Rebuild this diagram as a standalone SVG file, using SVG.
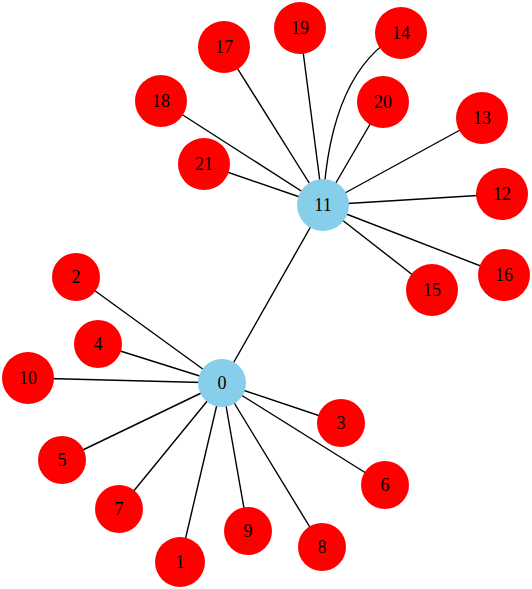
<svg xmlns="http://www.w3.org/2000/svg" width="532" height="589" viewBox="0 0 532 589">
<style>
.e{stroke:#000;stroke-width:1.4;fill:none}
.r{fill:#ff0000}
.b{fill:#87ceeb}
text{font-family:"Liberation Serif","Times New Roman",serif;font-size:18px;fill:#000;text-anchor:middle;dominant-baseline:central}
</style>
<rect width="532" height="589" fill="#fff"/>
<g id="edges">
<line class="e" x1="222" y1="383" x2="323" y2="205"/>
<line class="e" x1="222" y1="383" x2="76" y2="277"/>
<line class="e" x1="222" y1="383" x2="98" y2="344"/>
<line class="e" x1="222" y1="383" x2="28" y2="378"/>
<line class="e" x1="222" y1="383" x2="62" y2="460"/>
<line class="e" x1="222" y1="383" x2="119" y2="509"/>
<line class="e" x1="222" y1="383" x2="180" y2="562"/>
<line class="e" x1="222" y1="383" x2="248" y2="531"/>
<line class="e" x1="222" y1="383" x2="322" y2="547"/>
<line class="e" x1="222" y1="383" x2="385" y2="485"/>
<line class="e" x1="222" y1="383" x2="341" y2="423"/>
<line class="e" x1="323" y1="205" x2="161" y2="101"/>
<line class="e" x1="323" y1="205" x2="204" y2="164"/>
<line class="e" x1="323" y1="205" x2="224" y2="47"/>
<line class="e" x1="323" y1="205" x2="300" y2="28"/>
<path class="e" d="M323,205 Q330,70 401,33"/>
<line class="e" x1="323" y1="205" x2="383" y2="102"/>
<line class="e" x1="323" y1="205" x2="482" y2="118"/>
<line class="e" x1="323" y1="205" x2="502" y2="194"/>
<line class="e" x1="323" y1="205" x2="504" y2="275"/>
<line class="e" x1="323" y1="205" x2="432" y2="290"/>
</g>
<g id="n0"><circle class="b" cx="222" cy="383" r="24"/><text x="222" y="383">0</text></g>
<g id="n11"><circle class="b" cx="323" cy="205" r="26"/><text x="323" y="205">11</text></g>
<g id="n1"><circle class="r" cx="180" cy="562" r="25"/><text x="180" y="562">1</text></g>
<g id="n2"><circle class="r" cx="76" cy="277" r="24"/><text x="76" y="277">2</text></g>
<g id="n3"><circle class="r" cx="341" cy="423" r="24"/><text x="341" y="423">3</text></g>
<g id="n4"><circle class="r" cx="98" cy="344" r="24"/><text x="98" y="344">4</text></g>
<g id="n5"><circle class="r" cx="62" cy="460" r="24"/><text x="62" y="460">5</text></g>
<g id="n6"><circle class="r" cx="385" cy="485" r="24"/><text x="385" y="485">6</text></g>
<g id="n7"><circle class="r" cx="119" cy="509" r="24"/><text x="119" y="509">7</text></g>
<g id="n8"><circle class="r" cx="322" cy="547" r="24"/><text x="322" y="547">8</text></g>
<g id="n9"><circle class="r" cx="248" cy="531" r="24"/><text x="248" y="531">9</text></g>
<g id="n10"><circle class="r" cx="28" cy="378" r="26"/><text x="28" y="378">10</text></g>
<g id="n12"><circle class="r" cx="502" cy="194" r="26"/><text x="502" y="194">12</text></g>
<g id="n13"><circle class="r" cx="482" cy="118" r="26"/><text x="482" y="118">13</text></g>
<g id="n14"><circle class="r" cx="401" cy="33" r="26"/><text x="401" y="33">14</text></g>
<g id="n15"><circle class="r" cx="432" cy="290" r="26"/><text x="432" y="290">15</text></g>
<g id="n16"><circle class="r" cx="504" cy="275" r="26"/><text x="504" y="275">16</text></g>
<g id="n17"><circle class="r" cx="224" cy="47" r="26"/><text x="224" y="47">17</text></g>
<g id="n18"><circle class="r" cx="161" cy="101" r="26"/><text x="161" y="101">18</text></g>
<g id="n19"><circle class="r" cx="300" cy="28" r="26"/><text x="300" y="28">19</text></g>
<g id="n20"><circle class="r" cx="383" cy="102" r="26"/><text x="383" y="102">20</text></g>
<g id="n21"><circle class="r" cx="204" cy="164" r="26"/><text x="204" y="164">21</text></g>
</svg>
